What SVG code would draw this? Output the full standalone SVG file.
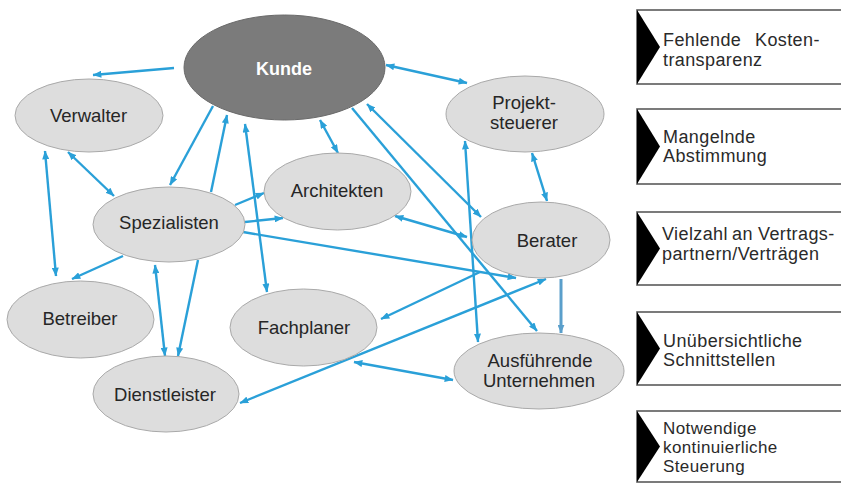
<svg xmlns="http://www.w3.org/2000/svg" width="841" height="484" viewBox="0 0 841 484">
<style>
.n{fill:#dddddd;stroke:#a9a9a9;stroke-width:1}
.t{font-family:"Liberation Sans",Arial,sans-serif;font-size:18.5px;fill:#262626;text-anchor:middle}
.c{fill:none;stroke:#2aa0d8;stroke-width:2.4}
.b{fill:#fff;stroke:#5a5a5a;stroke-width:1.6}
.tri{fill:#000}
.bt{font-family:"Liberation Sans",Arial,sans-serif;font-size:18px;fill:#2a2a2a;letter-spacing:0.4px}
.bs{font-size:17px}
</style>
<defs>
<marker id="a" viewBox="0 0 10 8" markerUnits="userSpaceOnUse" markerWidth="9" markerHeight="7" refX="9.5" refY="4" orient="auto-start-reverse">
<path d="M0,0 L10,4 L0,8 z" fill="#2aa0d8"/>
</marker>
<marker id="a2" viewBox="0 0 10 8" markerUnits="userSpaceOnUse" markerWidth="9" markerHeight="7" refX="9.5" refY="4" orient="auto">
<path d="M0,0 L10,4 L0,8 z" fill="#5a9fcb"/>
</marker>
</defs>

<g id="connectors">
<line class="c" x1="174" y1="68" x2="93" y2="75" marker-end="url(#a)"/>
<line class="c" x1="386" y1="65" x2="467" y2="83" marker-start="url(#a)" marker-end="url(#a)"/>
<line class="c" x1="213" y1="106" x2="170" y2="185" marker-end="url(#a)"/>
<line class="c" x1="211" y1="192" x2="227" y2="115" marker-end="url(#a)"/>
<line class="c" x1="245" y1="124" x2="267" y2="292" marker-start="url(#a)" marker-end="url(#a)"/>
<line class="c" x1="320" y1="120" x2="338" y2="153" marker-start="url(#a)" marker-end="url(#a)"/>
<line class="c" x1="352" y1="108" x2="537" y2="331" marker-end="url(#a)"/>
<line class="c" x1="367" y1="104" x2="481" y2="217" marker-start="url(#a)" marker-end="url(#a)"/>
<line class="c" x1="532" y1="153" x2="547" y2="201" marker-start="url(#a)" marker-end="url(#a)"/>
<line class="c" x1="465" y1="141" x2="478" y2="342" marker-start="url(#a)" marker-end="url(#a)"/>
<line x1="561" y1="279" x2="561" y2="333" stroke="#5a9fcb" stroke-width="3" marker-end="url(#a2)"/>
<line class="c" x1="395" y1="216" x2="467" y2="237" marker-start="url(#a)" marker-end="url(#a)"/>
<line class="c" x1="243" y1="232" x2="516" y2="278" marker-end="url(#a)"/>
<line class="c" x1="235" y1="205" x2="264" y2="193" marker-end="url(#a)"/>
<line class="c" x1="245" y1="222" x2="283" y2="218" marker-end="url(#a)"/>
<line class="c" x1="480" y1="272" x2="381" y2="319" marker-end="url(#a)"/>
<line class="c" x1="240" y1="403" x2="546" y2="279" marker-start="url(#a)" marker-end="url(#a)"/>
<line class="c" x1="354" y1="362" x2="453" y2="380" marker-start="url(#a)" marker-end="url(#a)"/>
<line class="c" x1="68" y1="152" x2="114" y2="196" marker-start="url(#a)" marker-end="url(#a)"/>
<line class="c" x1="45" y1="151" x2="56" y2="276" marker-start="url(#a)" marker-end="url(#a)"/>
<line class="c" x1="123" y1="256" x2="72" y2="279" marker-end="url(#a)"/>
<line class="c" x1="155" y1="265" x2="165" y2="356" marker-start="url(#a)" marker-end="url(#a)"/>
<line class="c" x1="198" y1="260" x2="178" y2="356" marker-end="url(#a)"/>
</g>

<g id="kunde">
<ellipse cx="284.5" cy="67.5" rx="100.5" ry="52.5" fill="#7b7b7b" stroke="#6a6a6a" stroke-width="1"/>
<text x="284" y="75" class="t" style="fill:#fff;font-weight:bold;font-size:18px">Kunde</text>
</g>
<g id="verwalter">
<ellipse class="n" cx="89" cy="115.5" rx="74" ry="36.5"/>
<text class="t" x="88.5" y="122">Verwalter</text>
</g>
<g id="spezialisten">
<ellipse class="n" cx="169" cy="224.5" rx="76" ry="37.5"/>
<text class="t" x="169" y="229">Spezialisten</text>
</g>
<g id="architekten">
<ellipse class="n" cx="337.5" cy="191.5" rx="73.5" ry="38.5"/>
<text class="t" x="337" y="197">Architekten</text>
</g>
<g id="projektsteuerer">
<ellipse class="n" cx="525" cy="114" rx="79" ry="38"/>
<text class="t" x="524" y="109">Projekt-</text>
<text class="t" x="524" y="129">steuerer</text>
</g>
<g id="berater">
<ellipse class="n" cx="541" cy="240" rx="69" ry="38"/>
<text class="t" x="547" y="247">Berater</text>
</g>
<g id="betreiber">
<ellipse class="n" cx="80.5" cy="319.5" rx="73.5" ry="38.5"/>
<text class="t" x="80" y="325">Betreiber</text>
</g>
<g id="fachplaner">
<ellipse class="n" cx="303.5" cy="327.5" rx="73.5" ry="38.5"/>
<text class="t" x="304" y="334">Fachplaner</text>
</g>
<g id="dienstleister">
<ellipse class="n" cx="166" cy="394" rx="73" ry="38"/>
<text class="t" x="165" y="401">Dienstleister</text>
</g>
<g id="ausfuehrende">
<ellipse class="n" cx="539" cy="371" rx="85" ry="38"/>
<text class="t" x="540" y="367">Ausführende</text>
<text class="t" x="539" y="387">Unternehmen</text>
</g>

<g id="box1">
<rect class="b" x="637" y="10" width="210" height="74"/>
<polygon class="tri" points="637,10 660,47 637,84"/>
<text class="bt" y="46"><tspan x="663">Fehlende</tspan><tspan x="755">Kosten-</tspan></text>
<text class="bt" x="663" y="66">transparenz</text>
</g>
<g id="box2">
<rect class="b" x="637" y="109" width="210" height="75"/>
<polygon class="tri" points="637,109 660,146.5 637,184"/>
<text class="bt" x="663" y="143">Mangelnde</text>
<text class="bt" x="663" y="162">Abstimmung</text>
</g>
<g id="box3">
<rect class="b" x="637" y="212" width="210" height="73"/>
<polygon class="tri" points="637,212 660,248.5 637,285"/>
<text class="bt" y="240"><tspan x="662">Vielzahl</tspan><tspan x="732">an</tspan><tspan x="758">Vertrags-</tspan></text>
<text class="bt" x="662" y="260">partnern/Verträgen</text>
</g>
<g id="box4">
<rect class="b" x="637" y="312" width="210" height="73"/>
<polygon class="tri" points="637,312 660,348.5 637,385"/>
<text class="bt" x="663" y="347">Unübersichtliche</text>
<text class="bt" x="663" y="366">Schnittstellen</text>
</g>
<g id="box5">
<rect class="b" x="637" y="411" width="210" height="71"/>
<polygon class="tri" points="637,411 660,446.5 637,482"/>
<text class="bt bs" x="663" y="434">Notwendige</text>
<text class="bt bs" x="663" y="453">kontinuierliche</text>
<text class="bt bs" x="663" y="472">Steuerung</text>
</g>
</svg>
